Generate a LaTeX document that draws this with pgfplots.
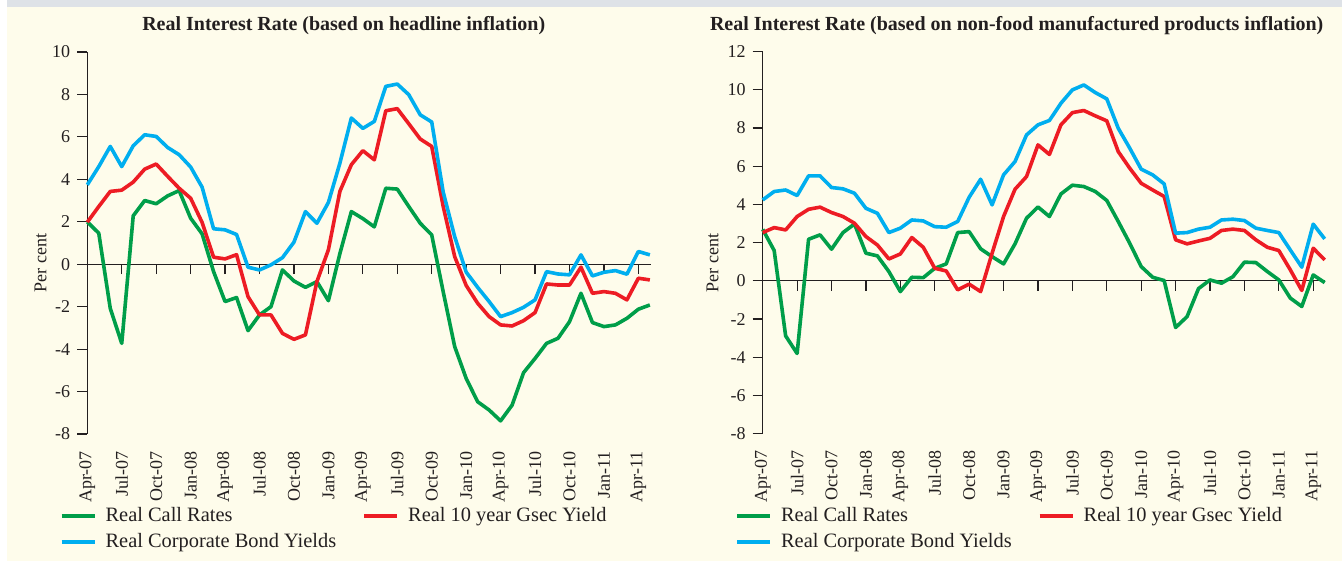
\documentclass[border=0pt]{standalone}
\usepackage{fontspec}
\setmainfont{Liberation Serif}
\usepackage{pgfplots}
\usepackage{pgfplotstable}
\pgfplotsset{compat=1.18}

\definecolor{cream}{RGB}{254,252,235}
\definecolor{band}{RGB}{222,226,231}
\definecolor{axiscol}{RGB}{35,31,32}
\definecolor{cgreen}{RGB}{0,158,73}
\definecolor{cred}{RGB}{237,28,36}
\definecolor{cblue}{RGB}{0,174,239}

% i  call  gsec  corp  (headline inflation)
\pgfplotstableread{
i call gsec corp
0 2.00 1.98 3.74
1 1.46 2.72 4.60
2 -2.08 3.43 5.55
3 -3.73 3.49 4.60
4 2.28 3.87 5.58
5 3.00 4.48 6.10
6 2.85 4.72 6.02
7 3.22 4.14 5.50
8 3.47 3.58 5.16
9 2.17 3.11 4.58
10 1.43 1.97 3.63
11 -0.35 0.33 1.67
12 -1.76 0.25 1.62
13 -1.57 0.45 1.40
14 -3.13 -1.53 -0.14
15 -2.39 -2.39 -0.27
16 -2.00 -2.39 -0.03
17 -0.27 -3.26 0.31
18 -0.79 -3.54 1.04
19 -1.09 -3.33 2.48
20 -0.82 -0.82 1.93
21 -1.72 0.68 2.91
22 0.50 3.43 4.76
23 2.48 4.69 6.89
24 2.15 5.35 6.40
25 1.76 4.92 6.73
26 3.58 7.23 8.38
27 3.54 7.33 8.49
28 2.72 6.62 7.99
29 1.93 5.90 7.04
30 1.38 5.55 6.70
31 -1.30 2.72 3.40
32 -3.88 0.36 1.30
33 -5.38 -1.00 -0.37
34 -6.48 -1.84 -1.09
35 -6.87 -2.47 -1.76
36 -7.38 -2.86 -2.47
37 -6.64 -2.91 -2.28
38 -5.11 -2.66 -2.03
39 -4.44 -2.28 -1.68
40 -3.73 -0.93 -0.35
41 -3.49 -0.98 -0.46
42 -2.71 -0.98 -0.50
43 -1.37 -0.14 0.44
44 -2.75 -1.37 -0.55
45 -2.94 -1.29 -0.38
46 -2.86 -1.37 -0.30
47 -2.55 -1.68 -0.47
48 -2.12 -0.66 0.60
49 -1.92 -0.74 0.44
}\headline

% non-food manufactured products inflation
\pgfplotstableread{
i call gsec corp
0 2.70 2.53 4.24
1 1.59 2.79 4.68
2 -2.88 2.67 4.76
3 -3.80 3.37 4.47
4 2.18 3.75 5.50
5 2.41 3.86 5.50
6 1.66 3.58 4.89
7 2.53 3.37 4.82
8 2.98 3.02 4.59
9 1.45 2.32 3.80
10 1.31 1.88 3.54
11 0.49 1.15 2.53
12 -0.56 1.41 2.76
13 0.19 2.27 3.19
14 0.17 1.76 3.14
15 0.66 0.66 2.84
16 0.89 0.52 2.81
17 2.53 -0.47 3.11
18 2.58 -0.17 4.38
19 1.68 -0.56 5.32
20 1.27 1.45 3.98
21 0.89 3.37 5.55
22 1.94 4.80 6.25
23 3.28 5.46 7.64
24 3.87 7.12 8.17
25 3.37 6.62 8.40
26 4.55 8.17 9.30
27 5.01 8.81 10.00
28 4.94 8.92 10.26
29 4.68 8.64 9.86
30 4.21 8.38 9.53
31 3.11 6.77 7.99
32 1.97 5.90 6.95
33 0.75 5.11 5.85
34 0.19 4.76 5.55
35 0.02 4.42 5.08
36 -2.44 2.15 2.50
37 -1.87 1.94 2.53
38 -0.40 2.09 2.71
39 0.05 2.23 2.81
40 -0.12 2.64 3.19
41 0.22 2.71 3.23
42 0.98 2.64 3.16
43 0.96 2.15 2.76
44 0.49 1.76 2.64
45 0.05 1.59 2.53
46 -0.90 0.58 1.62
47 -1.34 -0.50 0.72
48 0.31 1.71 2.97
49 -0.09 1.10 2.20
}\nonfood

\pgfplotsset{
  panel/.style={
    anchor=south west, scale only axis,
    height=191pt,
    ymin=-8,
    axis y line=left, axis x line=bottom,
    x axis line style={draw=none},
    y axis line style={-, draw=axiscol, line width=0.6pt},
    xtick={0,3,...,48},
    xticklabels={Apr-07,Jul-07,Oct-07,Jan-08,Apr-08,Jul-08,Oct-08,Jan-09,Apr-09,Jul-09,Oct-09,Jan-10,Apr-10,Jul-10,Oct-10,Jan-11,Apr-11},
    x tick style={draw=none},
    y tick style={draw=axiscol, line width=0.6pt},
    tick align=outside, major tick length=5pt,
    xticklabel style={rotate=90, anchor=east, font=\fontsize{9}{10}\selectfont, text=axiscol},
    yticklabel style={font=\fontsize{9}{10}\selectfont, text=axiscol},
    ylabel={Per cent},
    ylabel style={anchor=center, font=\fontsize{9}{10}\selectfont, text=axiscol},
    title style={font=\fontsize{10}{12}\selectfont\bfseries, text=axiscol, anchor=base},
    legend columns=2,
    legend style={draw=none, fill=none, anchor=north west,
      font=\fontsize{10.2}{12}\selectfont, text=axiscol,
      /tikz/every odd column/.append style={column sep=2.5pt},
      /tikz/every even column/.append style={column sep=11pt},
      row sep=0.5pt},
    legend cell align=left,
    legend image code/.code={\draw[#1, line width=2pt] (0pt,0pt) -- (16.5pt,0pt);},
    every axis plot/.append style={line width=1.8pt, line join=round, mark=none},
    clip=false,
  },
  zeroline/.style={
    anchor=south west, scale only axis,
    height=191pt, ymin=-8,
    axis x line=middle, axis y line=none,
    x axis line style={-, draw=axiscol, line width=0.6pt},
    xtick={3,6,...,48}, xticklabels={},
    x tick style={draw=axiscol, line width=0.6pt},
    tick align=outside, major tick length=5pt,
    ytick=\empty,
  },
}

\begin{document}
\begin{tikzpicture}
\fill[cream] (0,0) rectangle (671pt,280.5pt);
\fill[white] (0,0) rectangle (3.4pt,280.5pt);
\fill[band] (3.4pt,277pt) rectangle (671pt,280.5pt);

% ---------- left panel ----------
\begin{axis}[zeroline, at={(43.65pt,63.5pt)}, width=281.85pt, xmin=0, xmax=49.1, ymax=10]
\end{axis}
\begin{axis}[panel, at={(43.65pt,63.5pt)}, width=281.85pt, xmin=0, xmax=49.1, ymax=10,
  ytick={-8,-6,...,10}, yticklabels={-8,-6,-4,-2,0,2,4,6,8,10},
  ylabel style={at={(axis description cs:-0.083,0.448)}},
  title={Real Interest Rate (based on headline inflation)},
  title style={at={(axis description cs:0.455,1)}, yshift=4.7pt},
  legend style={at={(axis description cs:-0.0605,-0.17)}},
]
\addplot[cgreen] table[x=i, y=call] {\headline};
\addlegendentry{Real Call Rates}
\addplot[cred] table[x=i, y=gsec] {\headline};
\addlegendentry{Real 10 year Gsec Yield}
\addplot[cblue] table[x=i, y=corp] {\headline};
\addlegendentry{Real Corporate Bond Yields}
\end{axis}

% ---------- right panel ----------
\begin{axis}[zeroline, at={(381.35pt,63.65pt)}, width=281pt, xmin=0, xmax=49, ymax=12]
\end{axis}
\begin{axis}[panel, at={(381.35pt,63.65pt)}, width=281pt, xmin=0, xmax=49, ymax=12,
  ytick={-8,-6,...,12}, yticklabels={-8,-6,-4,-2,0,2,4,6,8,10,12},
  ylabel style={at={(axis description cs:-0.089,0.447)}},
  title={Real Interest Rate (based on non-food manufactured products inflation)},
  title style={at={(axis description cs:0.452,1)}, yshift=4.7pt},
  legend style={at={(axis description cs:-0.0605,-0.17)}},
]
\addplot[cgreen] table[x=i, y=call] {\nonfood};
\addlegendentry{Real Call Rates}
\addplot[cred] table[x=i, y=gsec] {\nonfood};
\addlegendentry{Real 10 year Gsec Yield}
\addplot[cblue] table[x=i, y=corp] {\nonfood};
\addlegendentry{Real Corporate Bond Yields}
\end{axis}

\pgfresetboundingbox
\path (0,0) rectangle (671pt,280.5pt);
\end{tikzpicture}
\end{document}
